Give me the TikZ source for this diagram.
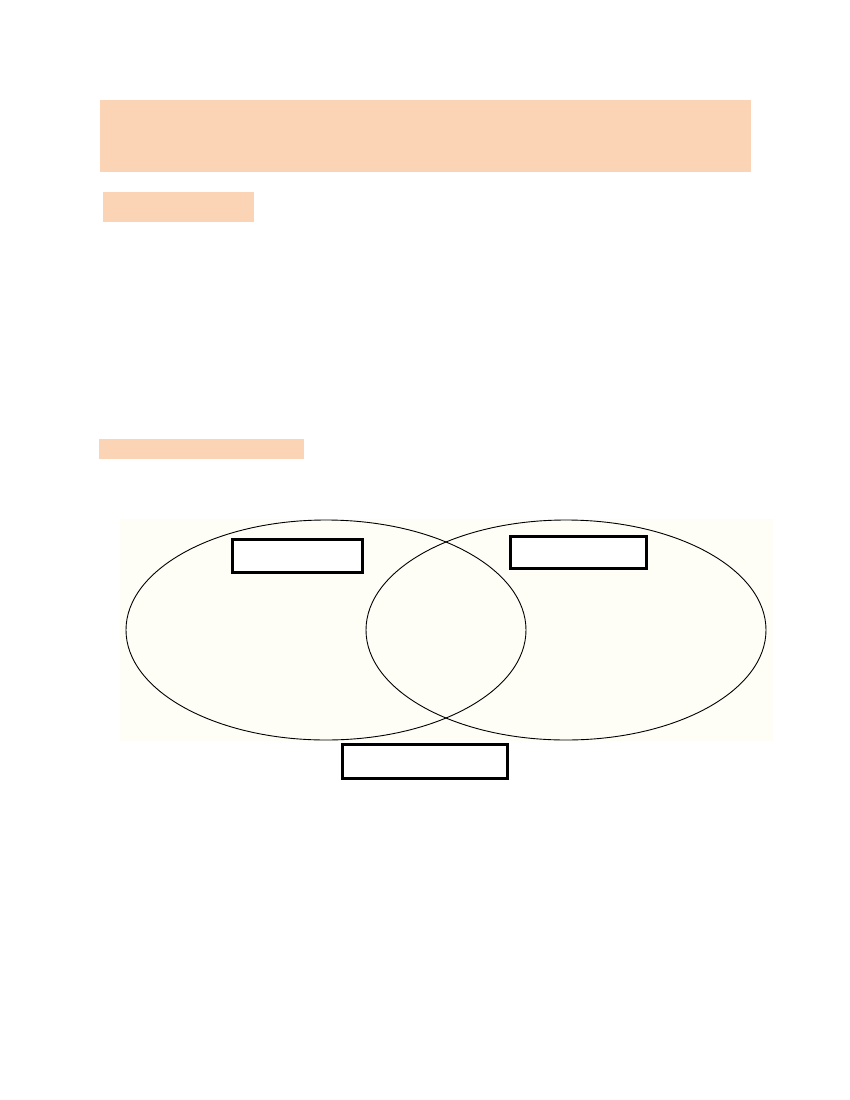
\documentclass[tikz,border=0pt]{standalone}
\usepackage{tikz}
\definecolor{peach}{RGB}{250,212,180}
\definecolor{cream}{RGB}{254,254,247}
\tikzset{
  band/.style={fill=peach, draw=none},
  setellipse/.style={draw=black, line width=0.9pt},
  labelbox/.style={draw=black, fill=white, line width=2.6pt, line join=miter}
}
\begin{document}
\begin{tikzpicture}[x=1pt,y=-1pt]
\useasboundingbox (0,0) rectangle (850,1100);
\fill[white] (0,0) rectangle (850,1100);
% header bands
\path[band] (100,100) rectangle (751,172);
\path[band] (103,192) rectangle (254,222);
\path[band] (99,439) rectangle (304,459);
% venn background
\fill[cream] (120,519) rectangle (773,741);
% ellipses
\draw[setellipse] (326,630) ellipse [x radius=200, y radius=110];
\draw[setellipse] (566,630) ellipse [x radius=200, y radius=110];
% label boxes
\node[labelbox, minimum width=130pt, minimum height=33pt, inner sep=0pt] (boxA) at (297.5,556) {};
\node[labelbox, minimum width=136pt, minimum height=32pt, inner sep=0pt] (boxB) at (578.5,552.5) {};
\node[labelbox, minimum width=165pt, minimum height=34pt, inner sep=0pt] (boxC) at (425,761.5) {};
\end{tikzpicture}
\end{document}
